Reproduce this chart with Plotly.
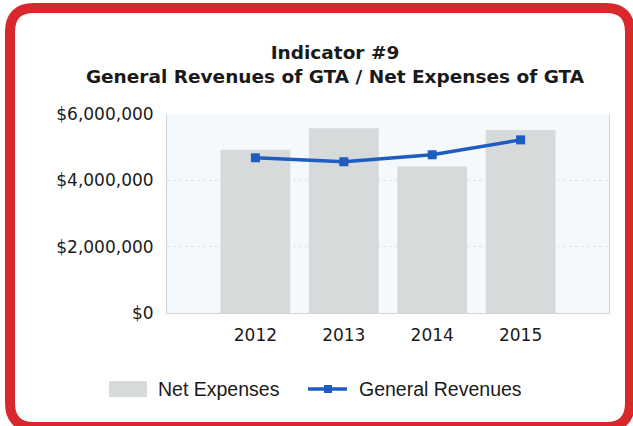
import plotly.graph_objects as go

years = ["2012", "2013", "2014", "2015"]
net_expenses = [4920000, 5570000, 4420000, 5520000]
general_revenues = [4680000, 4560000, 4770000, 5220000]
y_ticks = [0, 2000000, 4000000, 6000000]
y_tick_labels = ["$0", "$2,000,000", "$4,000,000", "$6,000,000"]

W, H = 633, 426
L, R, T, B = 167, 609, 114, 313

BAR_COLOR = "#d7dadb"
LINE_COLOR = "#1f5cbf"
TXT = "#1a1a1a"


def px(x):
    return (x - L) / (R - L)


def py(y):
    return (B - y) / (B - T)


fig = go.Figure()
fig.add_trace(go.Bar(
    x=years, y=net_expenses, name="Net Expenses",
    marker=dict(color=BAR_COLOR, line=dict(width=0)), width=0.79,
))
fig.add_trace(go.Scatter(
    x=years, y=general_revenues, name="General Revenues", mode="lines+markers",
    line=dict(color=LINE_COLOR, width=3.5),
    marker=dict(symbol="square", size=9, color=LINE_COLOR),
))

# rounded red frame
x0, x1, y0, y1, r = 10, 630, 8, 427, 24
path = (
    f"M {px(x0+r)},{py(y0)} L {px(x1-r)},{py(y0)} "
    f"Q {px(x1)},{py(y0)} {px(x1)},{py(y0+r)} "
    f"L {px(x1)},{py(y1-r)} Q {px(x1)},{py(y1)} {px(x1-r)},{py(y1)} "
    f"L {px(x0+r)},{py(y1)} Q {px(x0)},{py(y1)} {px(x0)},{py(y1-r)} "
    f"L {px(x0)},{py(y0+r)} Q {px(x0)},{py(y0)} {px(x0+r)},{py(y0)} Z"
)
fig.add_shape(type="path", path=path, xref="paper", yref="paper",
              line=dict(color="#d8282c", width=10), fillcolor="rgba(0,0,0,0)",
              layer="above")

# legend (drawn manually to match the wide swatch)
LEG_Y = 389
fig.add_shape(type="rect", xref="paper", yref="paper",
              x0=px(109), x1=px(147), y0=py(381), y1=py(397),
              fillcolor=BAR_COLOR, line=dict(width=0))
fig.add_annotation(x=px(156), y=py(LEG_Y), xref="paper", yref="paper",
                   text="Net Expenses", showarrow=False, xanchor="left", yanchor="middle",
                   font=dict(family="Liberation Sans, Arial", size=19.5, color=TXT))
fig.add_shape(type="line", xref="paper", yref="paper",
              x0=px(308), x1=px(347), y0=py(LEG_Y), y1=py(LEG_Y),
              line=dict(color=LINE_COLOR, width=3.5))
fig.add_shape(type="rect", xref="paper", yref="paper",
              x0=px(324), x1=px(332), y0=py(LEG_Y - 4), y1=py(LEG_Y + 4),
              fillcolor=LINE_COLOR, line=dict(width=0))
fig.add_annotation(x=px(357), y=py(LEG_Y), xref="paper", yref="paper",
                   text="General Revenues", showarrow=False, xanchor="left", yanchor="middle",
                   font=dict(family="Liberation Sans, Arial", size=19.5, color=TXT))

fig.update_layout(
    width=W, height=H,
    margin=dict(l=L, r=W - R, t=T, b=H - B, pad=0),
    paper_bgcolor="white", plot_bgcolor="#f4f9fd",
    title=dict(
        text="<b>Indicator #9<br>General Revenues of GTA / Net Expenses of GTA</b>",
        x=335 / W, xanchor="center", y=1 - 59 / H, yanchor="middle",
        font=dict(family="DejaVu Sans", size=18.5, color=TXT),
    ),
    font=dict(family="DejaVu Sans", size=17, color=TXT),
    showlegend=False,
    bargap=0.21,
)
fig.update_xaxes(type="category", range=[-1, 4], showgrid=False, showline=True,
                 linecolor="#d0d4d8", linewidth=1, ticks="", tickfont=dict(size=17),
                 ticklabelstandoff=7)
fig.update_yaxes(range=[0, 6000000], tickvals=y_ticks, ticktext=y_tick_labels,
                 showgrid=True, gridcolor="#dde3e8", griddash="dot", gridwidth=1,
                 showline=True, linecolor="#d0d4d8", linewidth=1, mirror=True,
                 zeroline=False, ticks="", ticklabelstandoff=9, tickfont=dict(size=17))

fig.write_html("out.html", config={"displayModeBar": False},
               post_script="document.body.style.margin='0';")
